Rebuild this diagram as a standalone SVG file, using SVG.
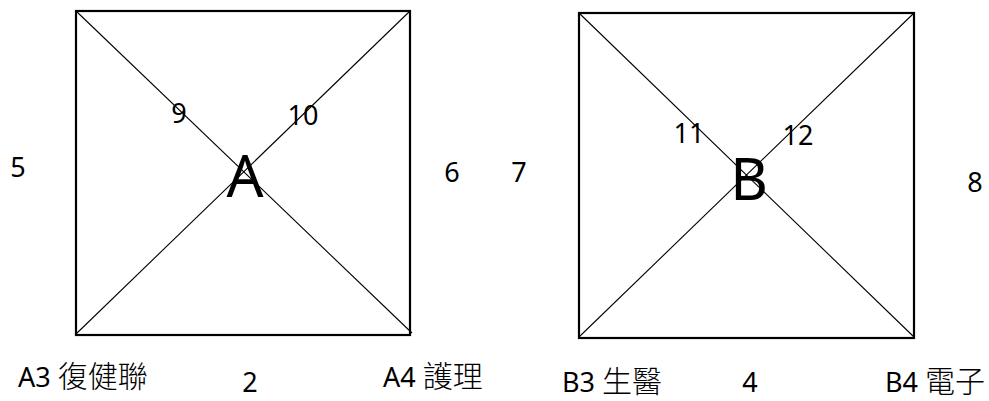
<svg xmlns="http://www.w3.org/2000/svg" width="989" height="401" viewBox="0 0 989 401">
<style>
.box{fill:none;stroke:#000;stroke-width:2.2}
.diag{stroke:#000;stroke-width:1.1;fill:none}
text{font-family:"Noto Sans","Noto Sans CJK TC",sans-serif;fill:#000}
.n{font-size:27px;text-anchor:middle}
.big{font-size:58px;text-anchor:middle}
.lbl{font-size:27px}
.cjk{font-family:"Noto Sans CJK TC",sans-serif;font-size:30px;font-weight:300}
</style>
<rect width="989" height="401" fill="#fff"/>
<g id="nodeA">
<rect class="box" x="76" y="11" width="334" height="324"/>
<text class="big" x="245" y="197">A</text>
</g>
<g id="nodeB">
<rect class="box" x="579" y="13" width="335" height="325"/>
<text class="big" x="749" y="200">B</text>
</g>
<g id="connectors">
<line class="diag" x1="76" y1="11" x2="412" y2="333"/>
<line class="diag" x1="76" y1="334" x2="410" y2="11"/>
<line class="diag" x1="579" y1="13" x2="914" y2="337"/>
<line class="diag" x1="579" y1="337" x2="914" y2="13"/>
</g>
<g id="labels">
<text class="n" x="18" y="177">5</text>
<text class="n" x="452" y="182">6</text>
<text class="n" x="179" y="123">9</text>
<text class="n" x="303" y="125">10</text>
<text class="n" x="250" y="392">2</text>
<text class="lbl" x="18" y="387">A3 <tspan class="cjk">復健聯</tspan></text>
<text class="lbl" x="383" y="387">A4 <tspan class="cjk">護理</tspan></text>
<text class="n" x="519" y="182">7</text>
<text class="n" x="975" y="192">8</text>
<text class="n" x="689" y="143">11</text>
<text class="n" x="798" y="145">12</text>
<text class="n" x="750" y="392">4</text>
<text class="lbl" x="562" y="392">B3 <tspan class="cjk">生醫</tspan></text>
<text class="lbl" x="885" y="392">B4 <tspan class="cjk">電子</tspan></text>
</g>
</svg>
